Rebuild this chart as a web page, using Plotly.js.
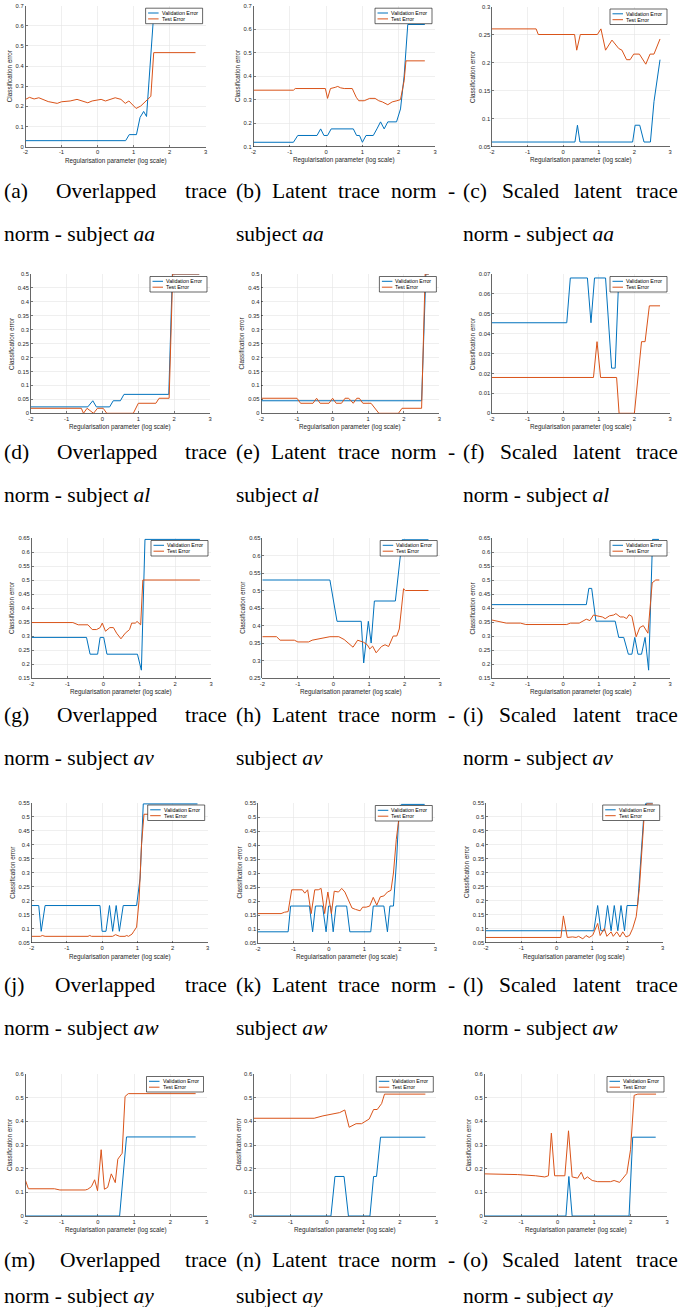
<!DOCTYPE html>
<html><head><meta charset="utf-8">
<script src="https://cdn.plot.ly/plotly-3.0.1.min.js"></script>
<style>html,body{margin:0;padding:0;background:#fff;overflow:hidden}#chart{width:681px;height:1307px}</style>
</head><body><div id="chart"></div>
<script>
// ---------- data (x = log10 regularisation parameter) ----------
// subject aa
const aaOverlapValX  = [-2, 0.78, 0.88, 1.08, 1.18, 1.28, 1.36, 1.56, 2.7];
const aaOverlapValY  = [0.03, 0.03, 0.06, 0.06, 0.145, 0.175, 0.15, 0.66, 0.66];
const aaOverlapTestX = [-2, -1.89, -1.76, -1.63, -1.37, -1.12, -1.0, -0.76, -0.57, -0.39, -0.27, -0.15, 0.1, 0.22, 0.49, 0.65, 0.77, 0.87, 0.99, 1.07, 1.2, 1.38, 1.48, 1.56, 2.72];
const aaOverlapTestY = [0.235, 0.245, 0.237, 0.243, 0.224, 0.215, 0.223, 0.227, 0.235, 0.227, 0.218, 0.227, 0.235, 0.227, 0.243, 0.235, 0.215, 0.227, 0.202, 0.19, 0.202, 0.235, 0.25, 0.467, 0.467];
const aaLatentValX  = [-2, -0.9, -0.78, -0.25, -0.15, -0.06, 0.04, 0.14, 0.75, 0.84, 0.92, 1.0, 1.1, 1.3, 1.4, 1.5, 1.6, 1.7, 1.94, 2.05, 2.15, 2.25, 2.72];
const aaLatentValY  = [0.118, 0.118, 0.147, 0.147, 0.175, 0.147, 0.147, 0.175, 0.175, 0.147, 0.147, 0.118, 0.147, 0.147, 0.175, 0.205, 0.175, 0.205, 0.205, 0.26, 0.4, 0.62, 0.62];
const aaLatentTestX = [-2, -0.9, -0.85, -0.02, 0.04, 0.12, 0.25, 0.32, 0.4, 0.5, 0.72, 0.83, 0.9, 1.05, 1.2, 1.35, 1.45, 1.55, 1.7, 1.82, 1.95, 2.05, 2.15, 2.2, 2.72];
const aaLatentTestY = [0.34, 0.34, 0.347, 0.347, 0.305, 0.347, 0.352, 0.356, 0.35, 0.347, 0.347, 0.31, 0.295, 0.295, 0.305, 0.305, 0.295, 0.29, 0.278, 0.29, 0.295, 0.3, 0.38, 0.465, 0.465];
const aaScaledValX  = [-2, 0.33, 0.4, 0.47, 1.95, 2.02, 2.15, 2.27, 2.45, 2.55, 2.72];
const aaScaledValY  = [0.058, 0.058, 0.088, 0.058, 0.058, 0.088, 0.088, 0.058, 0.058, 0.13, 0.205];
const aaScaledTestX = [-2, -0.76, -0.7, 0.32, 0.38, 0.48, 0.96, 1.06, 1.19, 1.37, 1.56, 1.65, 1.78, 1.88, 1.98, 2.14, 2.32, 2.44, 2.55, 2.67, 2.72];
const aaScaledTestY = [0.26, 0.26, 0.25, 0.25, 0.222, 0.25, 0.25, 0.26, 0.222, 0.24, 0.225, 0.222, 0.205, 0.205, 0.215, 0.215, 0.197, 0.215, 0.215, 0.235, 0.242];
// subject al
const alOverlapValX  = [-2, -0.41, -0.27, -0.17, 0.2, 0.3, 0.5, 0.6, 1.85, 1.95, 2.7];
const alOverlapValY  = [0.023, 0.023, 0.045, 0.023, 0.023, 0.045, 0.045, 0.068, 0.068, 0.5, 0.5];
const alOverlapTestX = [-2, -0.59, -0.53, -0.43, -0.25, -0.14, 0.02, 0.12, 0.86, 1.0, 1.49, 1.58, 1.86, 1.96, 2.7];
const alOverlapTestY = [0.018, 0.018, 0, 0.018, 0, 0.018, 0.018, 0, 0, 0.036, 0.036, 0.054, 0.054, 0.5, 0.5];
const alLatentValX  = [-2, 2.5, 2.62, 2.7];
const alLatentValY  = [0.045, 0.045, 0.5, 0.5];
const alLatentTestX = [-2, -1.0, -0.9, -0.55, -0.45, -0.35, -0.1, 0.0, 0.1, 0.25, 0.35, 0.45, 0.58, 0.68, 0.75, 0.85, 1.08, 1.3, 1.85, 1.95, 2.5, 2.6, 2.7];
const alLatentTestY = [0.054, 0.054, 0.036, 0.036, 0.054, 0.036, 0.036, 0.054, 0.036, 0.036, 0.054, 0.054, 0.036, 0.054, 0.054, 0.036, 0.036, 0, 0, 0.018, 0.018, 0.5, 0.5];
const alScaledValX  = [-2, 0.1, 0.2, 0.68, 0.78, 0.88, 1.19, 1.36, 1.46, 1.56, 2.7];
const alScaledValY  = [0.0455, 0.0455, 0.068, 0.068, 0.0455, 0.068, 0.068, 0.0227, 0.0227, 0.068, 0.068];
const alScaledTestX = [-2, 0.85, 0.95, 1.05, 1.5, 1.57, 2.0, 2.2, 2.3, 2.42, 2.72];
const alScaledTestY = [0.018, 0.018, 0.036, 0.018, 0.018, 0, 0, 0.036, 0.036, 0.054, 0.054];
// subject av
const avOverlapValX  = [-2, -0.47, -0.37, -0.16, -0.09, 0.01, 0.1, 0.95, 1.06, 1.16, 2.69];
const avOverlapValY  = [0.295, 0.295, 0.235, 0.235, 0.295, 0.295, 0.235, 0.235, 0.178, 0.645, 0.645];
const avOverlapTestX = [-2, -0.85, -0.7, -0.43, -0.31, -0.19, -0.09, -0.03, 0.06, 0.18, 0.28, 0.37, 0.49, 0.61, 0.73, 0.79, 0.89, 0.94, 1.04, 1.1, 2.69];
const avOverlapTestY = [0.348, 0.348, 0.34, 0.34, 0.323, 0.323, 0.33, 0.346, 0.317, 0.33, 0.33, 0.31, 0.29, 0.31, 0.323, 0.346, 0.346, 0.352, 0.34, 0.5, 0.5];
const avLatentValX  = [-2, -0.1, 0.1, 0.78, 0.85, 0.98, 1.06, 1.15, 1.74, 1.93, 2.67];
const avLatentValY  = [0.53, 0.53, 0.412, 0.412, 0.293, 0.412, 0.35, 0.47, 0.47, 0.645, 0.645];
const avLatentTestX = [-2, -1.6, -1.5, -1.1, -1.0, -0.7, -0.6, -0.3, -0.1, 0.15, 0.3, 0.55, 0.68, 0.85, 0.95, 1.02, 1.1, 1.2, 1.35, 1.45, 1.55, 1.68, 1.78, 1.85, 1.97, 2.02, 2.67];
const avLatentTestY = [0.368, 0.368, 0.358, 0.358, 0.353, 0.353, 0.358, 0.363, 0.368, 0.368, 0.36, 0.338, 0.358, 0.352, 0.345, 0.333, 0.341, 0.322, 0.34, 0.345, 0.34, 0.37, 0.37, 0.39, 0.505, 0.5, 0.5];
const avScaledValX  = [-2, 0.65, 0.72, 0.8, 0.92, 1.46, 1.56, 1.7, 1.83, 1.93, 2.01, 2.1, 2.2, 2.3, 2.4, 2.51, 2.69];
const avScaledValY  = [0.412, 0.412, 0.47, 0.47, 0.353, 0.353, 0.295, 0.295, 0.235, 0.235, 0.295, 0.235, 0.235, 0.295, 0.178, 0.645, 0.645];
const avScaledTestX = [-2, -1.8, -1.6, -1.2, -1.05, 0.1, 0.2, 0.45, 0.6, 0.65, 0.75, 0.85, 0.95, 1.1, 1.18, 1.3, 1.42, 1.48, 1.6, 1.7, 1.78, 1.85, 1.93, 2.05, 2.15, 2.25, 2.38, 2.5, 2.6, 2.7];
const avScaledTestY = [0.357, 0.352, 0.346, 0.346, 0.341, 0.341, 0.346, 0.346, 0.355, 0.36, 0.355, 0.375, 0.372, 0.368, 0.362, 0.372, 0.375, 0.38, 0.368, 0.368, 0.362, 0.376, 0.37, 0.297, 0.33, 0.337, 0.31, 0.49, 0.5, 0.5];
// subject aw
const awOverlapValX  = [-2, -1.8, -1.73, -1.62, -0.06, 0.0, 0.11, 0.21, 0.3, 0.4, 0.49, 0.6, 0.98, 1.08, 1.17, 2.71];
const awOverlapValY  = [0.182, 0.182, 0.09, 0.182, 0.182, 0.09, 0.09, 0.182, 0.09, 0.182, 0.09, 0.182, 0.182, 0.28, 0.545, 0.545];
const awOverlapTestX = [-2, -1.75, -1.7, -1.62, -0.4, -0.35, -0.3, 0.3, 0.38, 0.5, 0.65, 0.7, 0.75, 0.85, 0.9, 0.98, 1.05, 1.12, 1.19, 2.71];
const awOverlapTestY = [0.072, 0.072, 0.075, 0.072, 0.072, 0.075, 0.072, 0.072, 0.078, 0.072, 0.072, 0.075, 0.072, 0.08, 0.09, 0.105, 0.2, 0.4, 0.508, 0.508];
const awLatentValX  = [-2, -1.15, -1.08, -0.55, -0.46, -0.38, -0.18, -0.08, -0.01, 0.05, 0.12, 0.2, 0.5, 0.59, 1.18, 1.25, 1.55, 1.65, 1.72, 1.82, 1.91, 1.98, 2.04, 2.7];
const awLatentValY  = [0.09, 0.09, 0.182, 0.182, 0.09, 0.182, 0.182, 0.09, 0.182, 0.182, 0.09, 0.182, 0.182, 0.09, 0.09, 0.182, 0.182, 0.09, 0.182, 0.182, 0.35, 0.53, 0.545, 0.545];
const awLatentTestX = [-2, -1.35, -1.25, -1.15, -1.05, -0.75, -0.68, -0.6, -0.5, -0.4, -0.3, -0.22, -0.12, -0.03, 0.07, 0.15, 0.27, 0.36, 0.45, 0.55, 0.65, 0.75, 0.88, 0.95, 1.05, 1.15, 1.25, 1.35, 1.45, 1.55, 1.65, 1.75, 1.82, 1.9, 2.0, 2.7];
const awLatentTestY = [0.155, 0.155, 0.16, 0.162, 0.24, 0.24, 0.228, 0.24, 0.155, 0.24, 0.24, 0.245, 0.155, 0.232, 0.155, 0.235, 0.232, 0.245, 0.232, 0.2, 0.175, 0.17, 0.165, 0.178, 0.178, 0.182, 0.213, 0.185, 0.215, 0.218, 0.232, 0.238, 0.3, 0.42, 0.52, 0.52];
const awScaledValX  = [-2, 1.05, 1.16, 1.25, 1.35, 1.44, 1.54, 1.63, 1.73, 1.82, 1.92, 1.99, 2.29, 2.39, 2.48, 2.53, 2.72];
const awScaledValY  = [0.092, 0.092, 0.182, 0.092, 0.092, 0.182, 0.092, 0.182, 0.092, 0.182, 0.092, 0.182, 0.182, 0.35, 0.53, 0.548, 0.548];
const awScaledTestX = [-2, 0.12, 0.19, 0.3, 0.45, 0.55, 0.62, 0.74, 0.83, 0.92, 1.02, 1.16, 1.23, 1.35, 1.42, 1.54, 1.6, 1.7, 1.79, 1.87, 1.96, 2.06, 2.15, 2.25, 2.34, 2.43, 2.49, 2.55, 2.72];
const awScaledTestY = [0.068, 0.068, 0.145, 0.068, 0.07, 0.068, 0.072, 0.063, 0.075, 0.068, 0.076, 0.118, 0.075, 0.1, 0.072, 0.088, 0.072, 0.088, 0.07, 0.088, 0.07, 0.075, 0.1, 0.142, 0.243, 0.42, 0.53, 0.545, 0.545];
// subject ay
const ayOverlapValX  = [-2, 0.6, 0.79, 2.7];
const ayOverlapValY  = [0, 0, 0.334, 0.334];
const ayOverlapTestX = [-2, -1.92, -1.2, -1.05, -0.35, -0.28, -0.18, -0.09, -0.01, 0.09, 0.18, 0.27, 0.37, 0.48, 0.55, 0.67, 0.75, 0.84, 2.7];
const ayOverlapTestY = [0.15, 0.115, 0.115, 0.11, 0.11, 0.113, 0.124, 0.153, 0.107, 0.28, 0.113, 0.121, 0.178, 0.141, 0.24, 0.265, 0.505, 0.517, 0.517];
const ayLatentValX  = [-2, 0.11, 0.22, 0.47, 0.59, 1.18, 1.28, 1.36, 1.47, 2.7];
const ayLatentValY  = [0, 0, 0.167, 0.167, 0, 0, 0.167, 0.167, 0.333, 0.333];
const ayLatentTestX = [-2, -0.35, -0.11, 0.07, 0.25, 0.35, 0.49, 0.61, 0.8, 0.95, 1.16, 1.28, 1.38, 1.5, 1.58, 2.7];
const ayLatentTestY = [0.413, 0.413, 0.423, 0.428, 0.435, 0.437, 0.448, 0.375, 0.39, 0.39, 0.41, 0.45, 0.45, 0.475, 0.515, 0.515];
const ayScaledValX  = [-2, 0.23, 0.31, 0.4, 1.96, 2.06, 2.69];
const ayScaledValY  = [0, 0, 0.167, 0, 0, 0.333, 0.333];
const ayScaledTestX = [-2, -1.3, -1.1, -0.6, -0.35, -0.25, -0.17, -0.08, 0.2, 0.3, 0.4, 0.55, 0.65, 0.73, 0.82, 0.95, 1.1, 1.45, 1.55, 1.7, 1.8, 1.9, 2.0, 2.1, 2.2, 2.7];
const ayScaledTestY = [0.178, 0.178, 0.175, 0.17, 0.165, 0.17, 0.35, 0.17, 0.17, 0.36, 0.165, 0.16, 0.185, 0.155, 0.165, 0.15, 0.145, 0.145, 0.15, 0.142, 0.16, 0.18, 0.28, 0.51, 0.515, 0.515];

// tick labels / text
const xTickVals = [-2, -1, 0, 1, 2, 3];
const xTickText = ['-2', '-1', '0', '1', '2', '3'];
const subjects = ['aa', 'al', 'av', 'aw', 'ay'];
const letters = ['abc', 'def', 'ghi', 'jkl', 'mno'];
const legendNames = ['Validation Error', 'Test Error'];
const xTitle = 'Regularisation parameter (log scale)';
const yTitle = 'Classification error';

// ---------- layout ----------
const W = 681, H = 1307;
const BLUE = '#0072BD', ORANGE = '#D95319', INK = '#262626';
const px = v => v / W, py = v => 1 - v / H;

// [left, right, top, bottom] in px, y range, dtick
const panels = [
  {v:[aaOverlapValX,aaOverlapValY], t:[aaOverlapTestX,aaOverlapTestY], box:[25.5,205.6,5.7,146.7], yr:[0,0.7], dt:0.1},
  {v:[aaLatentValX,aaLatentValY], t:[aaLatentTestX,aaLatentTestY], box:[253.5,435,5.7,146.5], yr:[0.1,0.7], dt:0.1},
  {v:[aaScaledValX,aaScaledValY], t:[aaScaledTestX,aaScaledTestY], box:[492,670,6.5,146.5], yr:[0.05,0.3], dt:0.05},
  {v:[alOverlapValX,alOverlapValY], t:[alOverlapTestX,alOverlapTestY], box:[30.8,210,274,413.3], yr:[0,0.5], dt:0.05},
  {v:[alLatentValX,alLatentValY], t:[alLatentTestX,alLatentTestY], box:[261.4,439.4,274,413.3], yr:[0,0.5], dt:0.05},
  {v:[alScaledValX,alScaledValY], t:[alScaledTestX,alScaledTestY], box:[492,670,274,413.3], yr:[0,0.07], dt:0.01},
  {v:[avOverlapValX,avOverlapValY], t:[avOverlapTestX,avOverlapTestY], box:[31.6,211,538,678], yr:[0.15,0.65], dt:0.05},
  {v:[avLatentValX,avLatentValY], t:[avLatentTestX,avLatentTestY], box:[262.3,440.2,538,678], yr:[0.25,0.65], dt:0.05},
  {v:[avScaledValX,avScaledValY], t:[avScaledTestX,avScaledTestY], box:[492,670,538,678], yr:[0.15,0.65], dt:0.05},
  {v:[awOverlapValX,awOverlapValY], t:[awOverlapTestX,awOverlapTestY], box:[31.7,207.7,802.5,942.5], yr:[0.05,0.55], dt:0.05},
  {v:[awLatentValX,awLatentValY], t:[awLatentTestX,awLatentTestY], box:[258,435.3,803,943], yr:[0.05,0.55], dt:0.05},
  {v:[awScaledValX,awScaledValY], t:[awScaledTestX,awScaledTestY], box:[486,662.7,802.5,942.5], yr:[0.05,0.55], dt:0.05},
  {v:[ayOverlapValX,ayOverlapValY], t:[ayOverlapTestX,ayOverlapTestY], box:[25.5,206.5,1074,1216], yr:[0,0.6], dt:0.1},
  {v:[ayLatentValX,ayLatentValY], t:[ayLatentTestX,ayLatentTestY], box:[254,436.3,1074,1216], yr:[0,0.6], dt:0.1},
  {v:[ayScaledValX,ayScaledValY], t:[ayScaledTestX,ayScaledTestY], box:[484.6,667,1074,1216], yr:[0,0.6], dt:0.1}
];
const captionY = [[191,234],[452,495],[715,758],[985,1028],[1260,1296]];
const colSpan = [[3,226],[235,454],[462,677]];

const traces = [], shapes = [], annotations = [];
const layout = {width:W, height:H, margin:{l:0,r:0,t:0,b:0}, paper_bgcolor:'#fff', plot_bgcolor:'#fff',
  showlegend:false, font:{family:'"Liberation Sans", Arial, sans-serif', color:INK}};
const tickFont = {family:'"Liberation Sans", Arial, sans-serif', size:5.8, color:INK};

panels.forEach((p, i) => {
  const n = i + 1, xs = n === 1 ? '' : String(n);
  const [l, r, t, b] = p.box;
  traces.push({x:p.v[0], y:p.v[1], xaxis:'x'+xs, yaxis:'y'+xs, type:'scatter', mode:'lines', line:{color:BLUE, width:1}, hoverinfo:'skip'});
  traces.push({x:p.t[0], y:p.t[1], xaxis:'x'+xs, yaxis:'y'+xs, type:'scatter', mode:'lines', line:{color:ORANGE, width:1}, hoverinfo:'skip'});
  const common = {showline:true, linecolor:INK, linewidth:0.7, mirror:false, showgrid:true, gridcolor:'#e4e4e4', gridwidth:0.6,
    zeroline:false, ticks:'inside', ticklen:2, tickwidth:0.6, tickcolor:INK, tickfont:tickFont, layer:'below traces', fixedrange:true};
  layout['xaxis'+xs] = Object.assign({}, common, {domain:[px(l), px(r)], range:[-2,3], anchor:'y'+xs,
    tickmode:'array', tickvals:xTickVals, ticktext:xTickText, ticklabelstandoff:0});
  layout['yaxis'+xs] = Object.assign({}, common, {domain:[py(b), py(t)], range:p.yr, anchor:'x'+xs,
    tickmode:'linear', tick0:p.yr[0], dtick:p.dt, ticklabelstandoff:0});
  // axis titles
  annotations.push({xref:'paper', yref:'paper', x:px((l+r)/2), y:py(b+14), text:xTitle, showarrow:false,
    xanchor:'center', yanchor:'middle', font:{size:6.3, color:INK}, borderpad:0});
  const yOff = (p.dt < 0.1) ? 19.5 : 16.5;
  annotations.push({xref:'paper', yref:'paper', x:px(l - yOff), y:py((t+b)/2), text:yTitle, showarrow:false, textangle:-90,
    xanchor:'center', yanchor:'middle', font:{size:6.3, color:INK}, borderpad:0});
  // legend box (drawn, top-right inside axes)
  const lw = 57, lh = 15.5, lr = r - 3, lt = t + 2.5, ll = lr - lw;
  shapes.push({type:'rect', xref:'paper', yref:'paper', x0:px(ll), x1:px(lr), y0:py(lt), y1:py(lt+lh),
    fillcolor:'#fff', line:{color:INK, width:0.7}, layer:'above'});
  [[BLUE, lt+4.8], [ORANGE, lt+10.7]].forEach((c, k) => {
    shapes.push({type:'line', xref:'paper', yref:'paper', x0:px(ll+2.5), x1:px(ll+13), y0:py(c[1]), y1:py(c[1]),
      line:{color:c[0], width:1}, layer:'above'});
    annotations.push({xref:'paper', yref:'paper', x:px(ll+15), y:py(c[1]), text:legendNames[k], showarrow:false,
      xanchor:'left', yanchor:'middle', font:{size:5.3, color:'#000'}, borderpad:0});
  });
});

// captions
const capFont = '"Liberation Serif", "Times New Roman", serif';
const capSize = 21.5;
const ctx = document.createElement('canvas').getContext('2d');
ctx.font = capSize + 'px "Liberation Serif"';
const tw = s => ctx.measureText(s).width;
function justified(words, x0, x1, y) {
  const total = words.reduce((a, w) => a + tw(w), 0);
  const gap = (x1 - x0 - total) / (words.length - 1);
  let x = x0;
  words.forEach(w => {
    annotations.push({xref:'paper', yref:'paper', x:px(x), y:py(y), text:w, showarrow:false, xanchor:'left', yanchor:'middle',
      font:{family:capFont, size:capSize, color:'#000'}, borderpad:0});
    x += tw(w) + gap;
  });
}
subjects.forEach((s, row) => {
  const [y1, y2] = captionY[row];
  const L = letters[row];
  justified(['(' + L[0] + ')', 'Overlapped', 'trace'], colSpan[0][0], colSpan[0][1], y1);
  justified(['(' + L[1] + ')', 'Latent', 'trace', 'norm', '-'], colSpan[1][0], colSpan[1][1], y1);
  justified(['(' + L[2] + ')', 'Scaled', 'latent', 'trace'], colSpan[2][0], colSpan[2][1], y1);
  const line2 = ['norm - subject <i>' + s + '</i>', 'subject <i>' + s + '</i>', 'norm - subject <i>' + s + '</i>'];
  line2.forEach((txt, c) => {
    annotations.push({xref:'paper', yref:'paper', x:px(colSpan[c][0]), y:py(y2), text:txt, showarrow:false,
      xanchor:'left', yanchor:'middle', font:{family:capFont, size:capSize, color:'#000'}, borderpad:0});
  });
});

layout.shapes = shapes;
layout.annotations = annotations;
Plotly.newPlot('chart', traces, layout, {staticPlot:true, displayModeBar:false});
</script></body></html>
